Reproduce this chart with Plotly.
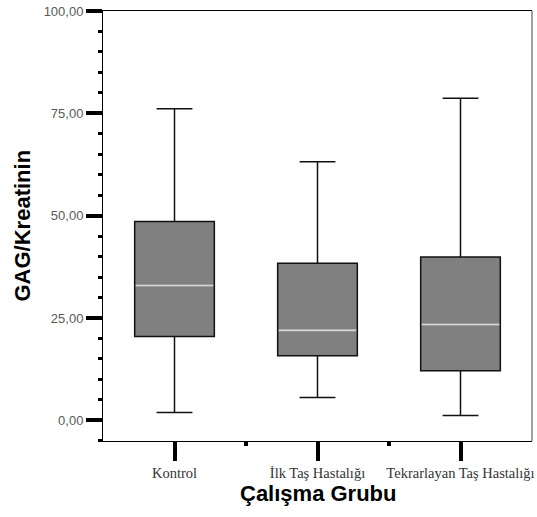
import plotly.graph_objects as go

# Data
groups = ["Kontrol", "İlk Taş Hastalığı", "Tekrarlayan Taş Hastalığı"]
lower_whisker = [1.9, 5.6, 1.2]
q1_values = [20.5, 15.8, 12.1]
median_values = [32.95, 22.0, 23.4]
q3_values = [48.6, 38.4, 39.9]
upper_whisker = [76.1, 63.2, 78.7]
y_tick_values = [0, 25, 50, 75, 100]
y_tick_labels = ["0,00", "25,00", "50,00", "75,00", "100,00"]

positions = list(range(len(groups)))
box_width = 0.557

fig = go.Figure()
fig.add_trace(go.Box(
    x=positions,
    q1=q1_values,
    median=median_values,
    q3=q3_values,
    lowerfence=lower_whisker,
    upperfence=upper_whisker,
    width=box_width,
    whiskerwidth=0.45,
    fillcolor="#808080",
    line=dict(color="#111111", width=1.5),
    boxpoints=False,
    hoverinfo="skip",
    showlegend=False,
))

# light median lines overlaid
mx, my = [], []
hw = box_width / 2 - 0.006
for p, m in zip(positions, median_values):
    mx += [p - hw, p + hw, None]
    my += [m, m, None]
fig.add_trace(go.Scatter(
    x=mx, y=my, mode="lines",
    line=dict(color="#d6d6d6", width=2),
    hoverinfo="skip", showlegend=False,
))

fig.update_layout(
    width=537, height=517,
    margin=dict(l=103, r=3, t=11, b=76),
    paper_bgcolor="white", plot_bgcolor="white",
    showlegend=False,
    xaxis=dict(
        range=[-0.5, 2.5],
        tickmode="array", tickvals=positions, ticktext=groups,
        showgrid=False, zeroline=False,
        showline=True, linecolor="black", linewidth=1, mirror=True,
        ticks="outside", ticklen=19, tickwidth=4, tickcolor="black",
        tickfont=dict(family="Liberation Serif", size=14.5, color="#333333"),
        minor=dict(tickvals=[0.5, 1.5], ticks="outside", ticklen=4,
                   tickwidth=4, tickcolor="black"),
    ),
    yaxis=dict(
        range=[-5.05, 100],
        tickmode="array", tickvals=y_tick_values, ticktext=y_tick_labels,
        showgrid=False, zeroline=False,
        showline=True, linecolor="black", linewidth=1,
        ticks="outside", ticklen=16, tickwidth=4, tickcolor="black",
        tickfont=dict(family="Liberation Sans", size=13, color="#5a5a5a"),
        minor=dict(dtick=5, tick0=0, ticks="outside", ticklen=4,
                   tickwidth=3, tickcolor="black"),
    ),
    shapes=[dict(type="line", xref="paper", yref="paper", x0=1, x1=1, y0=0, y1=1,
                 line=dict(color="#808080", width=1.5))],
    annotations=[
        dict(text="<b>Çalışma Grubu</b>", xref="paper", yref="paper",
             x=0.501, y=-0.123, xanchor="center", yanchor="middle", showarrow=False,
             font=dict(family="Liberation Sans", size=22, color="black")),
        dict(text="<b>GAG/Kreatinin</b>", xref="paper", yref="paper",
             x=-0.188, y=0.502, xanchor="center", yanchor="middle", showarrow=False,
             textangle=-90,
             font=dict(family="Liberation Sans", size=22, color="black")),
    ],
)

fig.write_html("out.html")
